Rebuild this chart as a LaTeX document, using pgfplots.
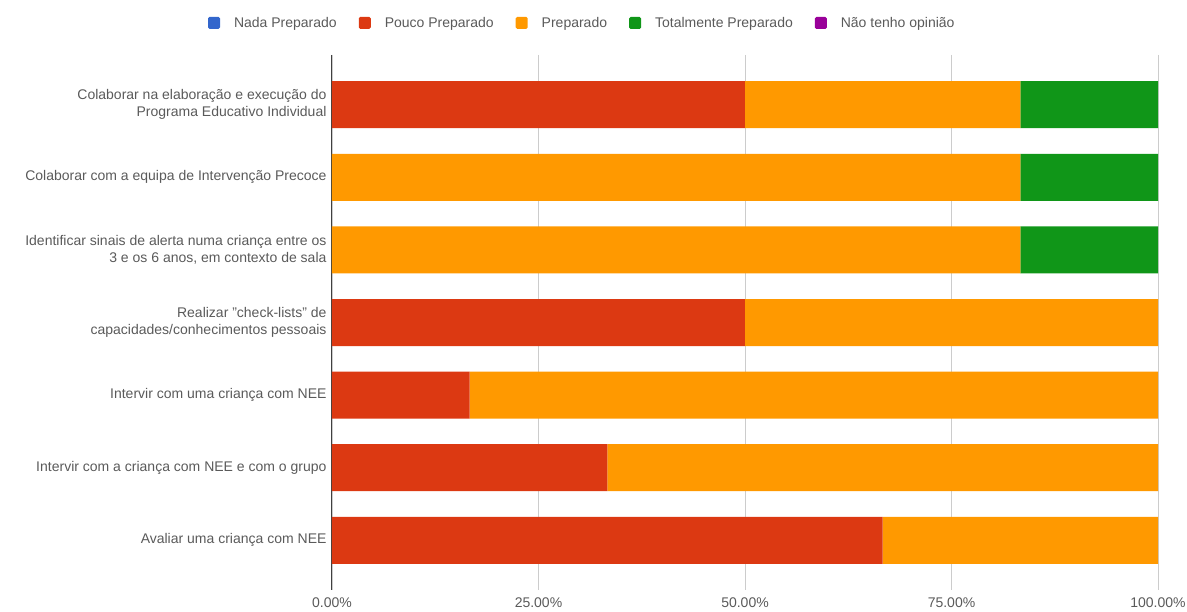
\documentclass[border=0pt]{standalone}
\usepackage{fontspec}
\setmainfont{Liberation Sans}
\usepackage{pgfplots}
\pgfplotsset{compat=1.18}
\definecolor{cblue}{HTML}{3366CC}
\definecolor{cred}{HTML}{DC3912}
\definecolor{corange}{HTML}{FF9900}
\definecolor{cgreen}{HTML}{109618}
\definecolor{cpurple}{HTML}{990099}
\definecolor{txt}{HTML}{5A5A5A}
\definecolor{gridc}{HTML}{CCCCCC}
\begin{document}
\begin{tikzpicture}
\useasboundingbox (-332pt,-21pt) rectangle (855pt,590pt);
\begin{axis}[
  at={(0pt,0pt)}, anchor=south west,
  scale only axis, width=826pt, height=535pt,
  xbar stacked, bar width=47pt,
  xmin=0, xmax=100,
  ymin=-0.685, ymax=6.685, y dir=reverse,
  xtick={0,25,50,75,100},
  xticklabels={0.00\%,25.00\%,50.00\%,75.00\%,100.00\%},
  ytick={0,1,2,3,4,5,6},
  yticklabels={{Colaborar na elaboração e execução do\\Programa Educativo Individual},
    {Colaborar com a equipa de Intervenção Precoce},
    {Identificar sinais de alerta numa criança entre os\\3 e os 6 anos, em contexto de sala},
    {Realizar "check-lists" de\\capacidades/conhecimentos pessoais},
    {Intervir com uma criança com NEE},
    {Intervir com a criança com NEE e com o grupo},
    {Avaliar uma criança com NEE}},
  major tick length=0pt,
  axis line style={draw=none},
  xmajorgrids, grid style={draw=gridc, line width=0.8pt},
  extra x ticks={0}, extra x tick labels={},
  extra x tick style={grid style={draw=black!75, line width=1pt}},
  tick label style={font=\fontsize{14}{17}\selectfont, text=txt},
  yticklabel style={align=right, xshift=-2pt},
  xticklabel style={yshift=-4pt},
  legend columns=-1,
  legend style={at={(0.303,1.06)}, anchor=center, draw=none, fill=none,
    font=\fontsize{14}{17}\selectfont, text=txt,
    /tikz/every odd column/.append style={column sep=12pt},
    /tikz/every even column/.append style={column sep=20pt}},
  legend image code/.code={\fill[#1, rounded corners=1.5pt] (0pt,-6pt) rectangle (12pt,6pt);},
]
\addplot[fill=cblue, draw=none] coordinates {(0,0) (0,1) (0,2) (0,3) (0,4) (0,5) (0,6)};
\addplot[fill=cred, draw=none] coordinates {(50,0) (0,1) (0,2) (50,3) (16.667,4) (33.333,5) (66.667,6)};
\addplot[fill=corange, draw=none] coordinates {(33.333,0) (83.333,1) (83.333,2) (50,3) (83.333,4) (66.667,5) (33.333,6)};
\addplot[fill=cgreen, draw=none] coordinates {(16.667,0) (16.667,1) (16.667,2) (0,3) (0,4) (0,5) (0,6)};
\addplot[fill=cpurple, draw=none] coordinates {(0,0) (0,1) (0,2) (0,3) (0,4) (0,5) (0,6)};
\legend{Nada Preparado, Pouco Preparado, Preparado, Totalmente Preparado, Não tenho opinião}
\end{axis}
\end{tikzpicture}
\end{document}
